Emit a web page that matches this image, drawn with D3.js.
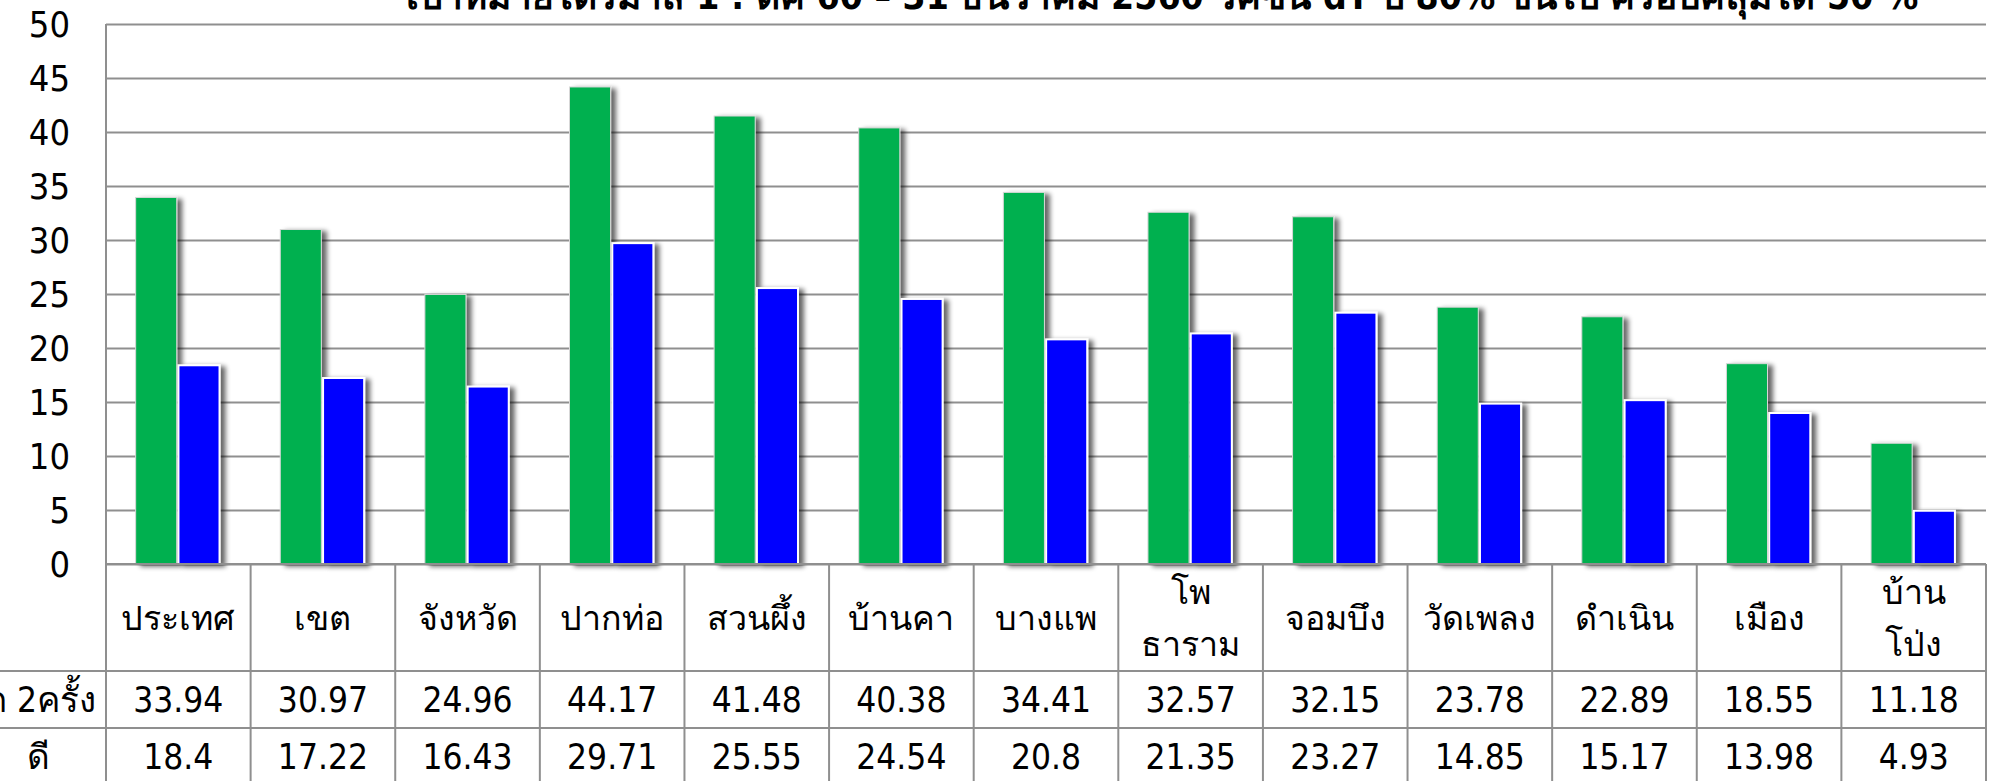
<!DOCTYPE html>
<html>
<head>
<meta charset="utf-8">
<script src="https://cdn.jsdelivr.net/npm/d3@7"></script>
<style>
  html, body { margin: 0; padding: 0; background: #fff; overflow: hidden; }
  text { font-family: Tahoma, "DejaVu Sans Condensed", "Noto Sans", sans-serif; fill: #000; }
</style>
</head>
<body>
<div id="chart"></div>
<script>
// Chart data
const categories = ["ประเทศ", "เขต", "จังหวัด", "ปากท่อ", "สวนผึ้ง", "บ้านคา", "บางแพ",
  "โพ\nธาราม", "จอมบึง", "วัดเพลง", "ดำเนิน", "เมือง", "บ้าน\nโป่ง"];
const seriesNames = ["ได้รับวัคซีนป้องกันบาดทะยัก 2ครั้ง", "ระดับภูมิคุ้มกัน\u00a0\u00a0\u00a0ดี"];
const seriesTwoDoses = [33.94, 30.97, 24.96, 44.17, 41.48, 40.38, 34.41, 32.57, 32.15, 23.78, 22.89, 18.55, 11.18];
const seriesGood = [18.4, 17.22, 16.43, 29.71, 25.55, 24.54, 20.8, 21.35, 23.27, 14.85, 15.17, 13.98, 4.93];
const yTicks = [0, 5, 10, 15, 20, 25, 30, 35, 40, 45, 50];
const title = "เป้าหมายไตรมาส 1 : ตค 60 – 31 ธันวาคม 2560 วัคซีน dT ปี 80% ขึ้นไป ครอบคลุมได้ 50 %";

const width = 1994, height = 781;
const margin = { top: 24, right: 8, left: 106 };
const plotBottom = 564;
const headerBottom = 671, row1Bottom = 728, row2Bottom = 785;
const colors = ["#00b050", "#0000ff"];
const gridColor = "#8f8f8f";

const rows = categories.map((c, i) => ({ cat: c, values: [seriesTwoDoses[i], seriesGood[i]] }));

const svg = d3.select("#chart")
  .append("svg")
  .attr("width", width)
  .attr("height", height);

// drop shadow like the office chart
const defs = svg.append("defs");
const filter = defs.append("filter").attr("id", "shadow")
  .attr("x", "-20%").attr("y", "-10%").attr("width", "160%").attr("height", "130%");
filter.append("feGaussianBlur").attr("in", "SourceAlpha").attr("stdDeviation", 2.5).attr("result", "blur");
filter.append("feOffset").attr("in", "blur").attr("dx", 5).attr("dy", 2).attr("result", "off");
filter.append("feComponentTransfer").attr("in", "off").attr("result", "soft")
  .append("feFuncA").attr("type", "linear").attr("slope", 0.6);
const merge = filter.append("feMerge");
merge.append("feMergeNode").attr("in", "soft");
merge.append("feMergeNode").attr("in", "SourceGraphic");

// scales
const x = d3.scaleBand().domain(d3.range(categories.length))
  .range([margin.left, width - margin.right]).padding(0);
const xInner = d3.scaleBand().domain([0, 1])
  .range([x.bandwidth() * 0.205, x.bandwidth() * 0.785]).paddingInner(0.04);
const y = d3.scaleLinear().domain([0, 50]).range([plotBottom, margin.top]);

// gridlines
const grid = svg.append("g")
  .attr("transform", `translate(${margin.left},0)`)
  .call(d3.axisLeft(y).tickValues(yTicks).tickSize(-(width - margin.right - margin.left)).tickFormat(""));
grid.select(".domain").remove();
grid.selectAll(".tick line").attr("stroke", gridColor).attr("stroke-width", 2);

// y axis labels
svg.append("g").selectAll("text")
  .data(yTicks)
  .enter()
  .append("text")
  .attr("x", 70)
  .attr("y", d => y(d))
  .attr("dy", "0.36em")
  .attr("text-anchor", "end")
  .attr("font-size", 36)
  .text(d => d);

// bars
const groups = svg.append("g").selectAll("g")
  .data(rows)
  .enter()
  .append("g")
  .attr("transform", (d, i) => `translate(${x(i)},0)`);

[0, 1].forEach(s => {
  groups.append("rect")
    .attr("x", xInner(s))
    .attr("y", d => y(d.values[s]))
    .attr("width", xInner.bandwidth())
    .attr("height", d => y(0) - y(d.values[s]))
    .attr("fill", colors[s])
    .attr("stroke", s === 1 ? "#ffffff" : "#d8d8d8")
    .attr("stroke-width", s === 1 ? 2 : 1)
    .attr("filter", "url(#shadow)");
});

// plot frame left
svg.append("line")
  .attr("x1", margin.left).attr("x2", margin.left)
  .attr("y1", margin.top).attr("y2", height)
  .attr("stroke", gridColor).attr("stroke-width", 2);

// data table
const table = svg.append("g");
table.append("line").attr("x1", margin.left).attr("x2", width - margin.right)
  .attr("y1", plotBottom).attr("y2", plotBottom).attr("stroke", gridColor).attr("stroke-width", 2);
[headerBottom, row1Bottom].forEach(yy => {
  table.append("line").attr("x1", 0).attr("x2", width - margin.right)
    .attr("y1", yy).attr("y2", yy).attr("stroke", gridColor).attr("stroke-width", 2);
});
table.selectAll(".vline")
  .data(d3.range(categories.length + 1))
  .enter()
  .append("line")
  .attr("class", "vline")
  .attr("x1", i => i < categories.length ? x(i) : x.range()[1])
  .attr("x2", i => i < categories.length ? x(i) : x.range()[1])
  .attr("y1", plotBottom)
  .attr("y2", height)
  .attr("stroke", gridColor)
  .attr("stroke-width", 2);

// header labels
table.selectAll(".cat")
  .data(rows)
  .enter()
  .append("text")
  .attr("class", "cat")
  .attr("text-anchor", "middle")
  .attr("font-size", 34)
  .each(function(d, i) {
    const el = d3.select(this);
    const lines = d.cat.split("\n");
    const cx = x(i) + x.bandwidth() / 2;
    const mid = (plotBottom + headerBottom) / 2;
    lines.forEach((ln, k) => {
      el.append("tspan")
        .attr("x", cx)
        .attr("y", mid + (k - (lines.length - 1) / 2) * 52)
        .attr("dy", "0.36em")
        .text(ln);
    });
  });

// value rows
const rowMids = [(headerBottom + row1Bottom) / 2, (row1Bottom + row2Bottom) / 2];
const rowLabelX = [96, 50];
[0, 1].forEach(s => {
  table.selectAll(".val" + s)
    .data(rows)
    .enter()
    .append("text")
    .attr("class", "val" + s)
    .attr("x", (d, i) => x(i) + x.bandwidth() / 2)
    .attr("y", rowMids[s])
    .attr("dy", "0.36em")
    .attr("text-anchor", "middle")
    .attr("font-size", 35)
    .text(d => d.values[s]);

  // row label, cut at the left edge like the source
  table.append("text")
    .attr("x", rowLabelX[s])
    .attr("y", rowMids[s])
    .attr("dy", "0.36em")
    .attr("text-anchor", "end")
    .attr("font-size", 35)
    .text(seriesNames[s]);
});

// title (partly above the page)
svg.append("text")
  .attr("x", (424 + 1900) / 2)
  .attr("y", 9)
  .attr("text-anchor", "middle")
  .attr("font-size", 37)
  .attr("font-weight", "bold")
  .text(title);
</script>
</body>
</html>
